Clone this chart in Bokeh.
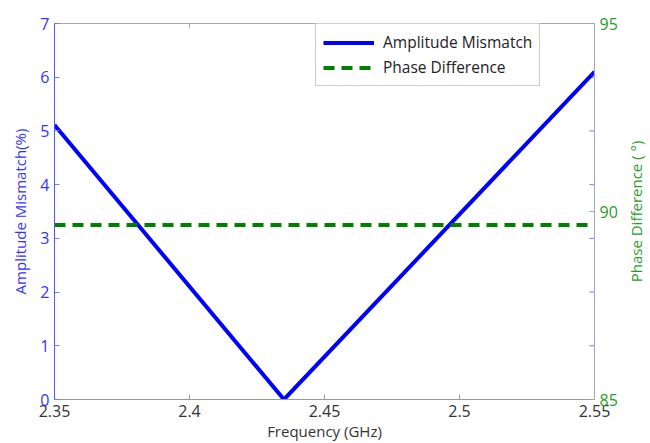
import math
from bokeh.plotting import figure
from bokeh.layouts import row
from bokeh.models import LinearAxis, Range1d, FixedTicker, Legend, LegendItem
from bokeh.core.properties import value
from bokeh.embed import file_html
from bokeh.resources import INLINE

# Data
freq = [2.35, 2.435, 2.55]
amp_mismatch = [5.11, 0.0, 6.10]
phase_freq = [2.35, 2.55]
phase_diff = [89.64, 89.64]

x_ticks = [2.35, 2.4, 2.45, 2.5, 2.55]
left_ticks = [0, 1, 2, 3, 4, 5, 6, 7]
right_ticks = [85, 90, 95]
right_title = "Phase Difference ( °)"

FONT = "Open Sans"
BLUE = "#0000ff"
GREEN = "#007f00"
GREEN_TXT = "#2a9a2a"

p = figure(width=620, height=443, output_backend="svg", toolbar_location=None,
           x_range=Range1d(2.35, 2.55), y_range=Range1d(0, 7),
           min_border_left=54, min_border_right=26, min_border_top=23,
           min_border_bottom=43, x_axis_location=None, y_axis_location=None)
p.extra_y_ranges = {"phase": Range1d(85, 95)}
p.grid.visible = False
p.outline_line_color = "#aaaaaa"
p.background_fill_color = "white"
p.border_fill_color = "white"

# bottom axis
xb = LinearAxis(ticker=FixedTicker(ticks=x_ticks), axis_label="Frequency (GHz)")
xb.major_tick_in = 5
xb.major_tick_out = 0
xb.minor_tick_line_color = None
xb.axis_line_color = "#999999"
xb.major_tick_line_color = "#999999"
xb.major_label_text_color = "#333333"
xb.major_label_text_font = FONT
xb.major_label_text_font_size = "16px"
xb.major_label_standoff = 5
xb.axis_label_text_font = FONT
xb.axis_label_text_font_size = "15px"
xb.axis_label_text_font_style = "normal"
xb.axis_label_text_color = "#333333"
xb.axis_label_standoff = 1
p.add_layout(xb, "below")

# left axis
yl = LinearAxis(ticker=FixedTicker(ticks=left_ticks), axis_label="Amplitude Mismatch(%)")
yl.major_tick_in = 5
yl.major_tick_out = 0
yl.minor_tick_line_color = None
yl.axis_line_color = "#5555ff"
yl.major_tick_line_color = "#7777ff"
yl.major_label_text_color = "#3333ff"
yl.major_label_text_font = FONT
yl.major_label_text_font_size = "16px"
yl.major_label_standoff = 5
yl.axis_label_text_font = FONT
yl.axis_label_text_font_size = "15px"
yl.axis_label_text_font_style = "normal"
yl.axis_label_text_color = "#3333ff"
yl.axis_label_standoff = 7
p.add_layout(yl, "left")

# right axis (title drawn in a narrow strip to read bottom-to-top)
yr = LinearAxis(y_range_name="phase", ticker=FixedTicker(ticks=right_ticks))
yr.major_tick_in = 5
yr.major_tick_out = 0
yr.minor_tick_line_color = None
yr.axis_line_color = "#9aaabb"
yr.major_tick_line_color = "#88bb88"
yr.major_label_text_color = GREEN_TXT
yr.major_label_text_font = FONT
yr.major_label_text_font_size = "16px"
yr.major_label_standoff = 5
p.add_layout(yr, "right")

# inner tick marks: blue (left scale) on the right border, grey on the top border
inner = left_ticks[1:-1]
p.segment(x0=[x_ticks[-1]] * len(inner), x1=[x_ticks[-1] - 0.0019] * len(inner),
          y0=inner, y1=inner, line_color="#7777ff", line_width=1)
top_inner = x_ticks[1:-1]
p.segment(x0=top_inner, x1=top_inner, y0=[left_ticks[-1]] * len(top_inner),
          y1=[left_ticks[-1] - 0.093] * len(top_inner), line_color="#aaaaaa", line_width=1)

r_amp = p.line(freq, amp_mismatch, line_color=BLUE, line_width=4)
r_ph = p.line(phase_freq, phase_diff, y_range_name="phase", line_color=GREEN,
              line_width=4, line_dash="11 7")

legend = Legend(items=[LegendItem(label="Amplitude Mismatch", renderers=[r_amp]),
                       LegendItem(label="Phase Difference", renderers=[r_ph])],
                location=(261, 313))
legend.label_text_font = FONT
legend.label_text_font_size = "15.5px"
legend.label_text_color = "#222222"
legend.glyph_width = 51
legend.glyph_height = 19
legend.label_height = 19
legend.label_standoff = 9
legend.spacing = 3
legend.padding = 7
legend.margin = 0
legend.border_line_color = "#999999"
legend.border_line_width = 1
legend.background_fill_alpha = 1
p.add_layout(legend, "center")

# strip holding the right-hand axis title
t = figure(width=30, height=443, output_backend="svg", toolbar_location=None,
           x_range=Range1d(0, 1), y_range=Range1d(0, 1),
           min_border_left=0, min_border_right=0, min_border_top=0, min_border_bottom=0,
           x_axis_location=None, y_axis_location=None)
t.grid.visible = False
t.outline_line_color = None
t.border_fill_color = "white"
t.text(x=[0.5], y=[0.50], text=[right_title], angle=math.pi / 2,
       text_align="center", text_baseline="middle", text_font=value(FONT),
       text_font_size="15px", text_color=GREEN_TXT)

layout = row(p, t, spacing=0)
open("out.html", "w").write(file_html(layout, INLINE))
